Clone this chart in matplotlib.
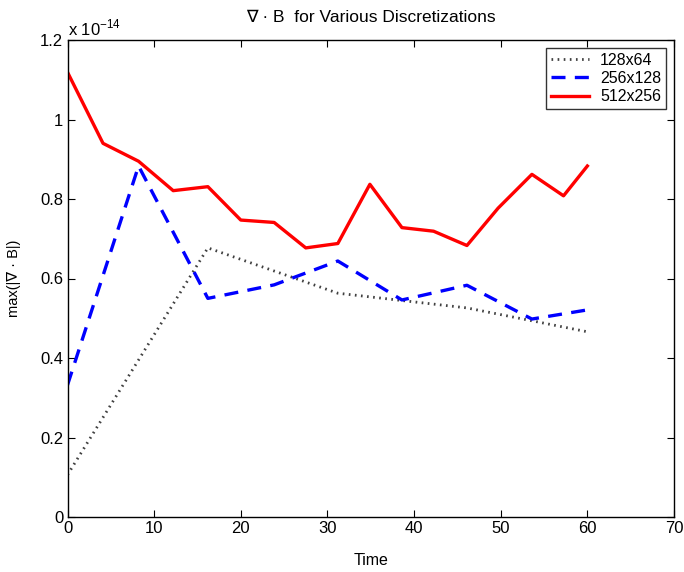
import matplotlib
matplotlib.use("Agg")
import matplotlib.pyplot as plt

plt.rcParams['font.family'] = ['Liberation Sans', 'DejaVu Sans']
plt.rcParams['mathtext.fontset'] = 'custom'
plt.rcParams['mathtext.rm'] = 'Liberation Sans'

# Data (values in units of 1e-14)
t512 = [0, 4.1, 8.2, 12.2, 16.2, 20.0, 23.85, 27.5, 31.2, 34.9, 38.6, 42.25, 46.1, 49.7, 53.6, 57.25, 60.0]
v512 = [1.119, 0.940, 0.895, 0.821, 0.831, 0.747, 0.741, 0.677, 0.688, 0.837, 0.728, 0.719, 0.683, 0.777, 0.862, 0.808, 0.883]
t256 = [0, 8.2, 16.2, 23.85, 31.2, 38.6, 46.1, 53.6, 60.0]
v256 = [0.332, 0.883, 0.550, 0.584, 0.644, 0.546, 0.583, 0.498, 0.521]
t128 = [0, 16.2, 31.2, 46.1, 60.0]
v128 = [0.106, 0.677, 0.563, 0.526, 0.466]
labels = ['128x64', '256x128', '512x256']
xticks = [0, 10, 20, 30, 40, 50, 60, 70]
yticks = [0, 0.2, 0.4, 0.6, 0.8, 1.0, 1.2]
yticklabels = ['0', '0.2', '0.4', '0.6', '0.8', '1', '1.2']

fig = plt.figure(figsize=(6.84, 5.72), dpi=100)
ax = fig.add_axes([67.5/684, 55/572, (674-67.5)/684, 477/572])

ax.plot(t128, v128, color='0.25', linestyle=(0, (0.6, 1.6)), linewidth=2.0, label=labels[0])
ax.plot(t256, v256, color='#0000ff', linestyle=(0, (4.2, 2.8)), linewidth=2.4, label=labels[1])
ax.plot(t512, v512, color='#ff0000', linestyle='-', linewidth=2.4, label=labels[2])

ax.set_xlim(0, 70)
ax.set_ylim(0, 1.2)
ax.set_xticks(xticks)
ax.set_yticks(yticks)
ax.set_yticklabels(yticklabels)
ax.tick_params(direction='in', length=5, width=0.8, top=True, right=True, labelsize=12, pad=3)
for s in ax.spines.values():
    s.set_linewidth(1.0)

ax.text(0.0, 1.004, r'x 10$^{-14}$', transform=ax.transAxes, fontsize=12, ha='left', va='bottom')
ax.set_title('∇ · B  for Various Discretizations', fontsize=12.5, pad=13)
ax.set_xlabel('Time', fontsize=11.5, labelpad=12)
ax.set_ylabel('max(|∇ · B|)', fontsize=10.5, labelpad=14)

leg = ax.legend(loc='upper right', fontsize=11.5, frameon=True, fancybox=False,
                edgecolor='black', borderaxespad=0.5, handlelength=2.4,
                labelspacing=0.2, borderpad=0.3, handletextpad=0.7)
leg.get_frame().set_linewidth(1.0)

fig.savefig('out.png', dpi=100)
